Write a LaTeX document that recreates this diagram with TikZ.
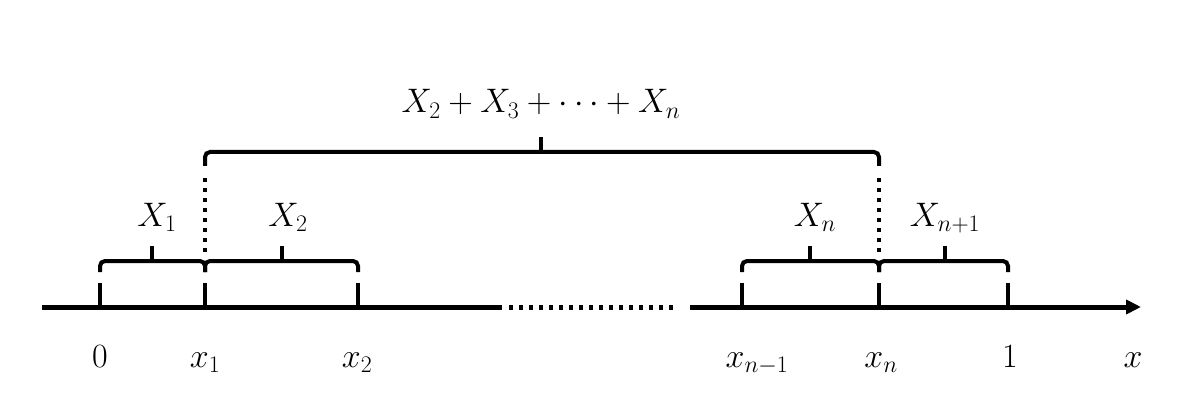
\documentclass[tikz,border=0pt]{standalone}
\usepackage{fix-cm}
\usetikzlibrary{arrows.meta}
\begin{document}
\begin{tikzpicture}[x=1pt,y=-1pt,
  axisline/.style={line width=5pt},
  tickline/.style={line width=4pt},
  braceline/.style={line width=4pt, rounded corners=5pt},
  dotline/.style={line width=4pt, dash pattern=on 4pt off 6pt},
  lbl/.style={anchor=base, inner sep=0pt, font=\fontsize{34}{40}\selectfont}]
\useasboundingbox (0,0) rectangle (1189,417);
% axis coordinates
\coordinate (a0) at (42,307);
\coordinate (a1) at (502,307);
\coordinate (d0) at (509,307);
\coordinate (d1) at (678,307);
\coordinate (a2) at (690,307);
\coordinate (a3) at (1141,307);
\draw[axisline] (a0) -- (a1);
\draw[line width=5pt, dash pattern=on 4pt off 6pt] (d0) -- (d1);
\draw[axisline, -{Triangle[length=15pt,width=14pt]}] (a2) -- (a3);
% ticks
\foreach \n/\x in {t0/100, t1/205, t2/358, tn1/742, tn/879, te/1008}{
  \coordinate (\n) at (\x,307);
  \coordinate (\n u) at (\x,283);
  \draw[tickline] (\n) -- (\n u);
}
% small braces
\foreach \l/\r/\c in {100/205/152, 205/358/282, 742/879/810, 879/1008/945}{
  \draw[braceline] (\l,272) -- (\l,261) -- (\r,261) -- (\r,272);
  \draw[tickline] (\c,262) -- (\c,246);
}
% big brace
\draw[braceline] (205,166) -- (205,152) -- (879,152) -- (879,166);
\draw[tickline] (541,153) -- (541,137);
% dotted connectors
\coordinate (v1a) at (205,178);
\coordinate (v1b) at (205,252);
\coordinate (v2a) at (879,178);
\coordinate (v2b) at (879,252);
\draw[dotline] (v1a) -- (v1b);
\draw[dotline] (v2a) -- (v2b);
% labels
\node[lbl] (L0) at (100,367) {$0$};
\node[lbl] (L1) at (205,367) {$x_1$};
\node[lbl] (L2) at (357,367) {$x_2$};
\node[lbl] (Ln1) at (757,367) {$x_{n-1}$};
\node[lbl] (Ln) at (881,367) {$x_n$};
\node[lbl] (Le) at (1010,367) {$1$};
\node[lbl] (Lx) at (1133,367) {$x$};
\node[lbl] (X1) at (157,226) {$X_1$};
\node[lbl] (X2) at (288,226) {$X_2$};
\node[lbl] (Xn) at (815,226) {$X_n$};
\node[lbl] (Xn1) at (945,226) {$X_{n+1}$};
\node[lbl] (S) at (541,113) {$X_2+X_3+\cdots+X_n$};
\end{tikzpicture}
\end{document}
